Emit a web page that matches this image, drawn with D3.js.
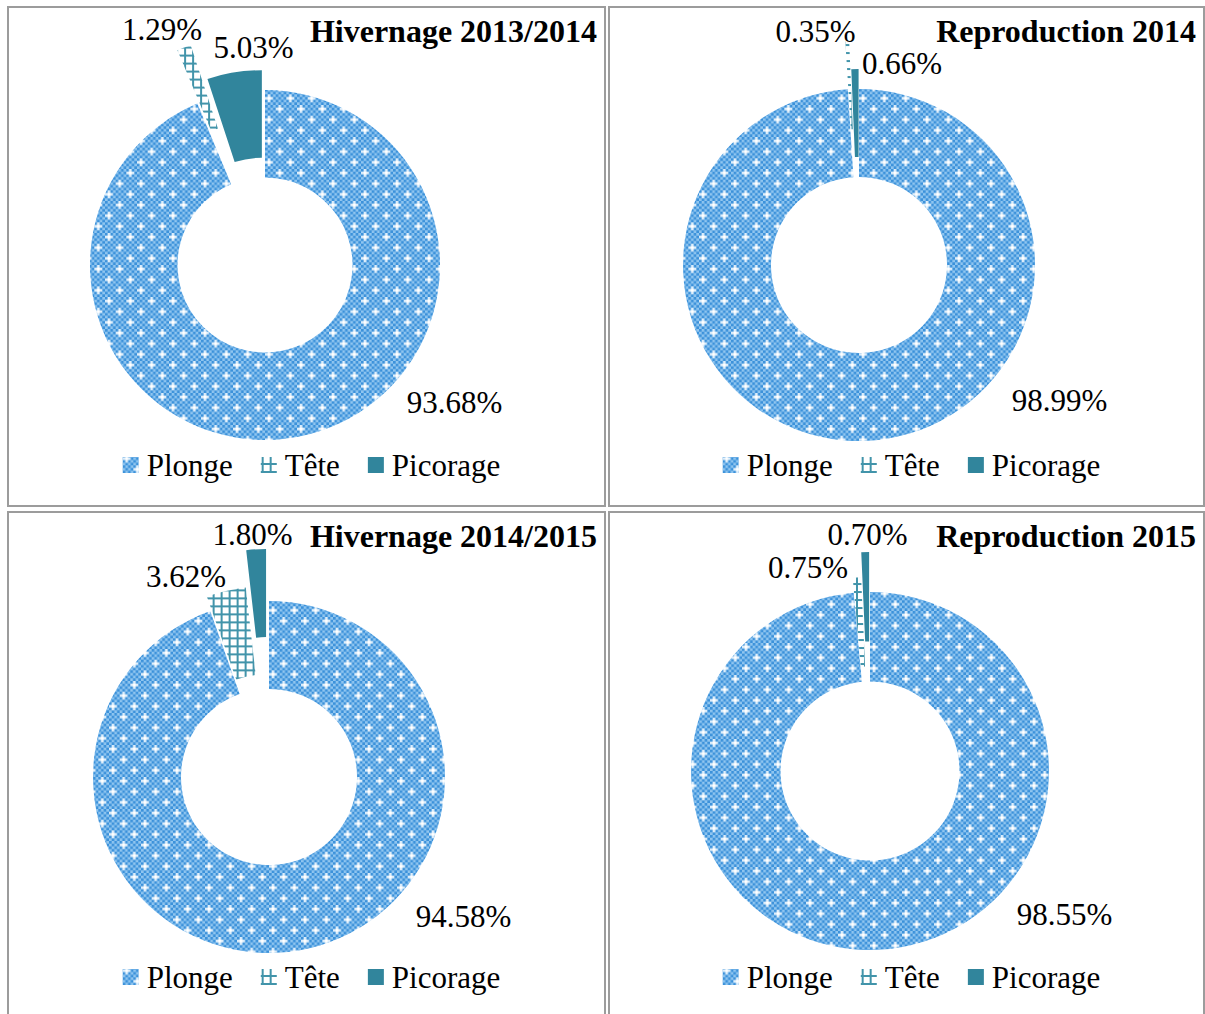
<!DOCTYPE html>
<html>
<head>
<meta charset="utf-8">
<script src="https://cdn.jsdelivr.net/npm/d3@7"></script>
<style>
  body { margin: 0; background: #fff; }
  svg { display: block; }
</style>
</head>
<body>
<svg id="chart" width="1205" height="1014"></svg>
<script>
// data
var panelTitles = ["Hivernage 2013/2014", "Reproduction 2014", "Hivernage 2014/2015", "Reproduction 2015"];
var categories = ["Plonge", "Tête", "Picorage"];
var plongeValues = [93.68, 98.99, 94.58, 98.55];
var teteValues = [1.29, 0.35, 3.62, 0.75];
var picorageValues = [5.03, 0.66, 1.80, 0.70];

// layout of each panel (page pixels)
var panels = [
  { x: 8, y: 7, w: 597, h: 499, cx: 265, cy: 265, r: 175, explode: [0, 57, 20], legendY: 476,
    labels: [[189.5, 148], [-103, -225], [-11.5, -207]] },
  { x: 609, y: 7, w: 595, h: 499, cx: 859, cy: 265, r: 176, explode: [0, 48, 20], legendY: 476,
    labels: [[200.5, 146], [-43.5, -223], [43, -191]] },
  { x: 8, y: 512, w: 597, h: 520, cx: 269, cy: 777, r: 176, explode: [0, 15, 52], legendY: 988,
    labels: [[194.5, 150], [-83, -190], [-16.5, -232]] },
  { x: 609, y: 512, w: 595, h: 520, cx: 870, cy: 771, r: 179, explode: [0, 15, 40], legendY: 988,
    labels: [[194.5, 154], [-62, -193], [-2.5, -226]] }
];

var serif = "'Liberation Serif', 'Times New Roman', serif";
var picorageColor = "#31859c";
var teteColor = "#4294aa";

var svg = d3.select("#chart");
var defs = svg.append("defs");

// Plonge: small checker with white stars
var pl = defs.append("pattern")
  .attr("id", "plonge")
  .attr("patternUnits", "userSpaceOnUse")
  .attr("width", 8)
  .attr("height", 8)
  .attr("patternTransform", "scale(2.667)");
pl.append("rect").attr("width", 8).attr("height", 8).attr("fill", "#90c6f0");
pl.selectAll(".ck")
  .data(d3.range(64).filter(function (k) { return (Math.floor(k / 8) + (k % 8)) % 2 === 0; }))
  .enter().append("rect")
  .attr("x", function (k) { return k % 8; })
  .attr("y", function (k) { return Math.floor(k / 8); })
  .attr("width", 1).attr("height", 1)
  .attr("fill", "#3b91da");
[[1, 1], [5, 5]].forEach(function (s) {
  pl.append("rect").attr("x", s[0] - 1).attr("y", s[1]).attr("width", 3).attr("height", 1)
    .attr("fill", "#fff").attr("opacity", 0.7);
  pl.append("rect").attr("x", s[0]).attr("y", s[1] - 1).attr("width", 1).attr("height", 3)
    .attr("fill", "#fff").attr("opacity", 0.7);
  pl.append("rect").attr("x", s[0]).attr("y", s[1]).attr("width", 1).attr("height", 1)
    .attr("fill", "#fff");
});

// Tête: grid hatch
var tp = defs.append("pattern")
  .attr("id", "tete")
  .attr("patternUnits", "userSpaceOnUse")
  .attr("width", 8)
  .attr("height", 8);
tp.append("rect").attr("width", 8).attr("height", 8).attr("fill", "#fff");
tp.append("rect").attr("x", 0).attr("y", 3).attr("width", 8).attr("height", 2).attr("fill", teteColor);
tp.append("rect").attr("x", 3).attr("y", 0).attr("width", 2).attr("height", 8).attr("fill", teteColor);

var fills = ["url(#plonge)", "url(#tete)", picorageColor];

var pie = d3.pie().sort(null).value(function (d) { return d; });

panels.forEach(function (p, i) {
  var values = [plongeValues[i], teteValues[i], picorageValues[i]];

  // cell frame
  svg.append("rect")
    .attr("x", p.x).attr("y", p.y)
    .attr("width", p.w).attr("height", p.h)
    .attr("fill", "none")
    .attr("stroke", "#9c9c9c")
    .attr("stroke-width", 2);

  var arc = d3.arc().innerRadius(p.r * 0.5).outerRadius(p.r);
  var g = svg.append("g").attr("transform", "translate(" + p.cx + "," + p.cy + ")");

  g.selectAll("path")
    .data(pie(values))
    .enter().append("path")
    .attr("d", arc)
    .attr("fill", function (d, j) { return fills[j]; })
    .attr("transform", function (d, j) {
      var mid = (d.startAngle + d.endAngle) / 2;
      var e = p.explode[j];
      return "translate(" + (e * Math.sin(mid)) + "," + (-e * Math.cos(mid)) + ")";
    });

  g.selectAll(".lbl")
    .data(values)
    .enter().append("text")
    .attr("x", function (d, j) { return p.labels[j][0]; })
    .attr("y", function (d, j) { return p.labels[j][1]; })
    .attr("text-anchor", "middle")
    .style("font-family", serif)
    .style("font-size", "31px")
    .attr("fill", "#000")
    .text(function (d) { return d.toFixed(2) + "%"; });

  svg.append("text")
    .attr("x", p.x + p.w - 8)
    .attr("y", p.y + 35)
    .attr("text-anchor", "end")
    .style("font-family", serif)
    .style("font-size", "32px")
    .style("font-weight", "bold")
    .attr("fill", "#000")
    .text(panelTitles[i]);

  // legend, centred in the cell
  var lg = svg.append("g");
  var xPos = 0;
  categories.forEach(function (c, j) {
    lg.append("rect")
      .attr("x", xPos).attr("y", -19)
      .attr("width", 16).attr("height", 16)
      .attr("fill", fills[j]);
    var t = lg.append("text")
      .attr("x", xPos + 24).attr("y", 0)
      .style("font-family", serif)
      .style("font-size", "31px")
      .attr("fill", "#000")
      .text(c);
    xPos += 24 + t.node().getComputedTextLength() + 28;
  });
  var total = xPos - 28;
  lg.attr("transform", "translate(" + (p.x + p.w / 2 - total / 2 + 5) + "," + p.legendY + ")");
});
</script>
</body>
</html>
